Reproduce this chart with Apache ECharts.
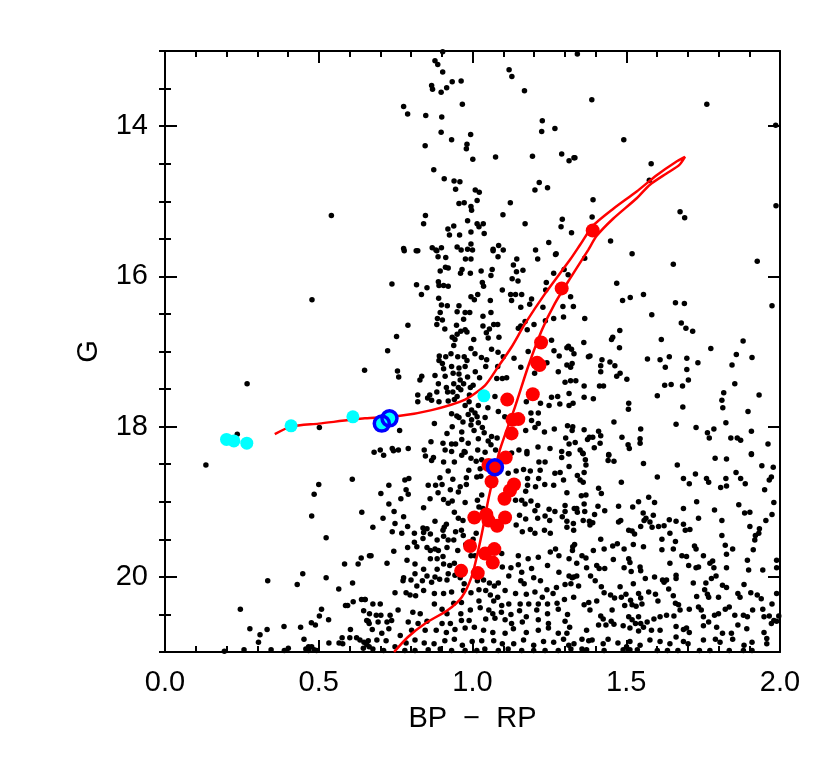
<!DOCTYPE html>
<html>
<head>
<meta charset="utf-8">
<title>Gaia CMD</title>
<script src="https://cdn.jsdelivr.net/npm/echarts@6/dist/echarts.min.js"></script>
<style>
  html, body { margin: 0; padding: 0; background: #fff; }
  #chart { width: 830px; height: 758px; }
</style>
</head>
<body>
<div id="chart"></div>
<script>
'use strict';

// field stars, [BP-RP, G]
var fieldStars = [
  [0.541,15.19],
  [0.878,13.13],[0.887,13.18],[0.903,13.28],[1.119,13.25],[1.128,13.34],[0.934,13.41],[0.963,13.40],[0.867,13.46],
  [0.870,13.51],[0.916,13.49],[0.898,13.55],[1.169,13.53],[0.776,13.74],[0.789,13.84],[0.967,13.71],[0.848,13.86],
  [0.900,13.88],[1.227,13.93],[1.225,14.07],[1.268,14.03],[0.898,14.08],[0.994,14.11],[0.932,14.18],[0.982,14.24],
  [0.980,14.30],[0.846,14.26],[1.001,14.44],[1.075,14.41],[1.195,14.40],[1.290,14.37],[1.314,14.46],[1.330,14.42],
  [0.874,14.58],[0.908,14.70],[0.940,14.73],[0.959,14.74],[0.945,14.84],[1.009,14.85],[1.022,14.88],[1.203,14.85],
  [1.217,14.75],[1.244,14.82],[1.015,14.99],[0.956,15.03],[0.973,15.02],[0.995,15.07],[0.997,15.12],[1.123,15.02],
  [1.099,15.18],[0.847,15.19],[0.841,15.30],[0.984,15.26],[1.015,15.30],[1.035,15.30],[1.021,15.34],[0.920,15.37],
  [0.939,15.33],[0.925,15.45],[0.958,15.45],[0.995,15.41],[1.038,15.43],[1.171,15.30],[1.292,15.24],[1.288,15.34],
  [1.322,15.42],[0.776,15.63],[0.817,15.66],[0.869,15.62],[0.899,15.62],[0.881,15.65],[0.950,15.61],[0.984,15.64],
  [0.995,15.57],[1.067,15.64],[1.085,15.59],[1.248,15.55],[1.272,15.70],[0.903,13.01],
  [1.341,13.04],[1.388,13.65],[1.762,13.71],[1.986,13.99],[1.492,14.18],[1.333,14.42],[1.581,14.50],[1.575,14.72],
  [1.392,14.98],[1.389,15.21],[1.675,15.14],[1.690,15.22],[1.987,15.06],[1.449,15.53],
  [0.478,16.31],[0.649,17.25],[0.267,17.43],[0.235,18.10],[0.502,18.01],
  [0.133,18.51],[0.609,18.70],[0.500,18.77],[0.485,18.90],[0.640,19.14],[0.477,19.19],[0.524,19.48],[0.638,19.75],
  [0.665,19.72],[0.584,19.83],[0.628,19.83],[0.448,19.96],[0.430,20.10],[0.524,20.01],[0.334,20.05],[0.610,20.08],
  [0.565,20.16],[0.245,20.43],[0.587,20.38],[0.594,20.38],[0.612,20.33],[0.639,20.30],[0.651,20.30],[0.509,20.43],
  [0.646,20.45],[0.502,20.52],[0.532,20.57],[0.476,20.61],[0.489,20.64],[0.656,20.58],[0.664,20.62],[0.387,20.66],
  [0.441,20.67],[0.276,20.69],[0.332,20.70],[0.309,20.77],[0.603,20.70],[0.452,20.83],[0.304,20.87],[0.533,20.88],
  [0.566,20.88],[0.578,20.89],[0.576,20.81],[0.601,20.81],[0.623,20.81],[0.634,20.84],[0.647,20.87],[0.656,20.90],
  [0.645,20.95],[0.664,20.93],[0.193,20.99],[0.257,20.97],[0.345,20.97],[0.388,20.98],[0.401,20.95],[0.458,20.96],
  [0.467,20.93],[0.477,20.93],[0.485,20.97],[0.493,20.98],[0.467,20.98],
  [0.778,15.66],[0.822,15.66],[0.884,15.66],[0.963,15.65],[1.000,15.65],[1.067,15.66],[1.100,15.65],[1.205,15.65],
  [1.270,15.71],[0.888,15.74],[0.913,15.75],[0.977,15.77],[0.995,15.77],[1.083,15.74],[1.144,15.77],[1.212,15.77],
  [0.895,15.93],[0.912,15.88],[0.921,15.89],[0.966,15.91],[0.993,15.96],[0.961,15.96],[1.064,15.91],[1.060,15.99],
  [1.028,15.93],[1.133,15.85],[1.143,15.94],[1.164,15.92],[1.298,15.91],[1.311,15.98],[1.264,15.96],[0.738,16.10],
  [0.818,16.11],[0.852,16.15],[0.889,16.07],[0.891,16.12],[0.906,16.12],[0.921,16.13],[1.032,16.08],[1.036,16.13],
  [1.097,16.18],[1.129,16.03],[1.148,16.06],[1.240,16.08],[0.834,16.24],[0.890,16.29],[0.995,16.27],[1.006,16.31],
  [1.017,16.24],[1.058,16.32],[1.124,16.24],[1.140,16.24],[1.160,16.24],[1.127,16.32],[1.192,16.30],[1.238,16.18],
  [1.319,16.27],[0.899,16.38],[0.918,16.39],[0.956,16.39],[0.895,16.48],[0.950,16.47],[0.976,16.48],[0.991,16.48],
  [1.034,16.53],[1.060,16.48],[1.157,16.41],[1.186,16.37],[1.229,16.41],[1.294,16.40],[1.296,16.54],[0.790,16.65],
  [0.886,16.56],[0.902,16.58],[0.884,16.64],[0.910,16.70],[0.971,16.57],[0.948,16.65],[0.976,16.71],[1.034,16.66],
  [1.055,16.70],[1.069,16.64],[1.082,16.64],[1.149,16.69],[1.157,16.66],[1.171,16.60],[1.200,16.64],[1.237,16.59],
  [1.264,16.56],[0.753,16.80],[0.934,16.81],[0.962,16.73],[0.982,16.74],[0.950,16.77],[0.943,16.84],[0.939,16.92],
  [1.004,16.84],[1.045,16.75],[1.051,16.82],[1.086,16.81],[1.178,16.71],[1.257,16.85],[1.312,16.93],[1.322,16.97],
  [0.724,16.99],[0.892,17.06],[0.913,17.07],[0.891,17.12],[0.930,17.03],[0.952,17.07],[0.973,17.07],[0.982,17.12],
  [0.995,16.96],[1.008,17.03],[1.029,17.08],[1.046,17.11],[1.062,16.97],[1.083,17.01],[1.100,17.07],[1.135,17.09],
  [1.181,17.00],[1.265,16.99],[1.282,17.06],[1.307,16.95],[0.902,17.16],[0.906,17.23],[0.932,17.20],[0.956,17.22],
  [0.976,17.20],[1.009,17.27],[1.043,17.20],[1.082,17.20],[1.157,17.21],[1.242,17.15],[1.307,17.18],[1.319,17.21],
  [0.756,17.26],[0.760,17.34],[0.835,17.33],[0.829,17.38],[0.878,17.32],[0.911,17.33],[0.937,17.29],[0.956,17.30],
  [0.960,17.38],[0.984,17.34],[1.023,17.35],[1.079,17.36],[1.097,17.36],[1.111,17.35],[1.202,17.29],[1.279,17.27],
  [1.301,17.41],[1.319,17.39],[0.889,17.43],[0.915,17.48],[0.939,17.43],[0.954,17.48],[0.971,17.43],[0.993,17.48],
  [1.002,17.45],[0.884,17.54],[0.919,17.54],[0.936,17.54],[0.962,17.51],[0.990,17.58],[0.822,17.58],[0.861,17.58],
  [1.073,17.60],[1.257,17.61],[1.277,17.60],[1.314,17.56],[0.822,17.67],[0.854,17.62],[0.867,17.65],[0.891,17.67],
  [0.921,17.66],[0.941,17.64],[0.950,17.60],[0.989,17.67],[0.976,17.72],[0.997,17.78],[1.019,17.72],[1.050,17.75],
  [1.175,17.67],[1.221,17.69],[1.190,17.82],[1.214,17.82],[1.249,17.72],[1.284,17.70],[1.314,17.72],[0.932,17.83],
  [0.949,17.86],[0.986,17.84],[1.008,17.82],[1.015,17.87],[1.041,17.88],[0.876,17.96],[0.763,18.05],[0.956,17.88],
  [0.969,17.94],[0.997,17.91],[1.019,17.95],[1.084,17.80],[1.105,17.87],[1.192,17.92],[1.214,17.96],[1.309,17.99],
  [1.324,18.05],[0.934,18.00],[0.995,17.98],[1.005,18.05],[1.032,18.01],[1.038,18.08],[0.917,18.09],[0.965,18.07],
  [1.062,18.13],[1.080,18.15],[1.173,18.05],[1.203,18.01],[1.234,18.07],[1.266,18.03],[1.303,18.15],[0.700,18.31],
  [0.739,18.29],[0.759,18.31],[0.791,18.29],[0.843,18.31],[0.865,18.20],[0.904,18.22],[0.932,18.23],[0.945,18.23],
  [0.965,18.17],[0.986,18.22],[1.019,18.16],[1.051,18.19],[1.060,18.24],[0.911,18.31],[0.932,18.33],[0.973,18.33],
  [1.017,18.31],[1.041,18.34],[1.075,18.31],[1.127,18.35],[1.151,18.31],[1.177,18.33],[1.213,18.27],[1.252,18.29],
  [1.290,18.33],[1.312,18.36],[1.314,18.23],
  [1.365,15.76],[1.328,16.40],[1.653,15.84],[1.926,15.80],[1.519,15.70],[1.469,16.09],[1.556,16.24],[1.513,16.28],
  [1.488,16.32],[1.660,16.35],[1.689,16.36],[1.974,16.39],[1.583,16.51],[1.365,16.56],[1.679,16.62],[1.694,16.69],
  [1.716,16.73],[1.479,16.72],[1.452,16.84],[1.456,16.81],[1.880,16.86],[1.362,16.88],[1.478,16.95],[1.614,16.84],
  [1.775,16.96],[1.330,17.03],[1.382,17.06],[1.377,17.07],[1.421,17.11],[1.324,17.16],[1.417,17.19],[1.447,17.14],
  [1.463,17.19],[1.569,17.10],[1.610,17.11],[1.640,17.07],[1.627,17.21],[1.697,17.09],[1.733,17.15],[1.858,17.04],
  [1.844,17.18],[1.909,17.08],[1.417,17.27],[1.469,17.33],[1.480,17.29],[1.336,17.39],[1.502,17.37],[1.697,17.24],
  [1.702,17.38],[1.363,17.46],[1.413,17.46],[1.426,17.46],[1.625,17.45],[1.646,17.44],[1.683,17.46],[1.853,17.43],
  [1.363,17.61],[1.393,17.63],[1.601,17.59],[1.932,17.58],[1.327,17.69],[1.508,17.69],[1.507,17.77],[1.684,17.74],
  [1.817,17.55],[1.811,17.65],[1.814,17.75],[1.896,17.80],[1.460,17.94],[1.662,17.97],[1.824,17.95],[1.326,18.00],
  [1.363,18.04],[1.727,18.01],[1.410,18.06],[1.547,18.03],[1.785,18.03],[1.764,18.08],[1.907,18.06],[1.380,18.14],
  [1.374,18.17],[1.391,18.14],[1.417,18.12],[1.486,18.14],[1.545,18.16],[1.545,18.22],[1.334,18.21],[1.415,18.22],
  [1.506,18.24],[1.510,18.29],[1.396,18.28],[1.770,18.15],[1.840,18.15],[1.861,18.15],[1.872,18.18],[1.961,18.23],
  [1.350,18.31],[1.358,18.35],[1.443,18.37],[1.907,18.36],
  [0.680,18.34],[0.711,18.38],[0.743,18.32],[0.847,18.39],[0.867,18.45],[0.873,18.41],[0.906,18.47],[0.941,18.47],
  [0.965,18.38],[0.976,18.34],[0.995,18.42],[1.012,18.46],[1.030,18.44],[1.177,18.36],[1.216,18.47],[1.236,18.47],
  [1.290,18.41],[1.314,18.36],[0.921,18.59],[0.988,18.58],[1.025,18.56],[1.027,18.66],[1.142,18.59],[1.166,18.57],
  [1.188,18.59],[1.220,18.58],[1.268,18.62],[1.285,18.61],[1.314,18.53],[0.780,18.71],[0.793,18.69],[0.894,18.68],
  [0.936,18.70],[0.980,18.68],[1.014,18.67],[1.116,18.62],[1.179,18.69],[1.215,18.69],[0.728,18.78],[0.856,18.78],
  [0.880,18.78],[0.901,18.77],[0.960,18.80],[0.980,18.77],[0.784,18.84],[0.791,18.90],[0.702,18.89],[0.767,18.96],
  [0.862,18.96],[0.888,18.88],[0.928,18.84],[0.954,18.87],[1.030,18.91],[1.016,18.98],[1.173,18.86],[1.179,18.78],
  [1.205,18.80],[1.235,18.77],[1.264,18.78],[1.307,18.88],[1.296,18.71],[0.728,19.03],[0.745,19.13],[0.841,19.08],
  [0.906,18.97],[0.934,18.99],[0.921,19.02],[0.976,19.01],[1.021,19.07],[1.034,19.09],[1.140,18.98],[1.160,18.98],
  [1.171,19.03],[1.190,18.99],[1.212,19.05],[1.203,19.12],[1.249,19.10],[1.268,19.13],[1.301,19.05],[1.331,19.09],
  [1.301,19.13],[0.709,19.22],[0.776,19.20],[0.878,19.26],[0.908,19.34],[0.915,19.30],[0.941,19.14],[0.954,19.22],
  [0.969,19.25],[1.153,19.18],[1.173,19.23],[1.212,19.22],[1.236,19.19],[1.251,19.25],[1.292,19.20],[1.307,19.26],
  [0.839,19.35],[0.852,19.36],[0.789,19.33],[0.748,19.29],[0.676,19.34],[0.739,19.40],[0.770,19.42],[0.811,19.42],
  [0.841,19.41],[0.863,19.43],[0.904,19.38],[0.906,19.46],[0.945,19.40],[0.964,19.38],[0.970,19.45],[1.142,19.31],
  [1.162,19.40],[1.188,19.37],[1.203,19.42],[1.234,19.38],[1.253,19.42],[1.307,19.34],[1.329,19.38],[0.811,19.54],
  [0.839,19.49],[0.885,19.51],[0.921,19.51],[0.939,19.51],[0.978,19.57],[1.002,19.50],[1.012,19.42],[0.789,19.61],
  [0.819,19.60],[0.852,19.61],[0.863,19.65],[0.878,19.63],[0.889,19.65],[0.744,19.66],[0.670,19.72],[0.787,19.78],
  [0.863,19.76],[0.885,19.76],[0.904,19.73],[0.917,19.61],[0.952,19.65],[0.995,19.72],[1.008,19.72],[1.084,19.63],
  [1.095,19.69],[1.149,19.72],[1.181,19.76],[1.214,19.74],[1.253,19.67],[1.270,19.63],[1.281,19.72],[1.314,19.76],
  [1.325,19.65],[0.722,19.82],[0.813,19.83],[0.885,19.90],[0.906,19.83],[0.926,19.85],[0.941,19.82],[0.921,19.96],
  [0.943,19.98],[1.097,19.87],[1.125,19.88],[1.149,19.84],[1.160,19.94],[1.192,19.89],[1.244,19.85],[1.281,19.94],
  [1.314,19.99],[1.329,20.00],[0.776,20.01],[0.813,19.96],[0.841,19.90],[0.852,19.99],[0.774,20.05],[0.800,20.04],
  [0.819,20.12],[0.837,20.05],[0.867,20.07],[0.878,20.00],[0.893,20.03],[0.917,20.04],[0.960,20.01],[0.973,20.09],
  [1.016,20.05],[1.036,20.04],[1.055,20.08],[1.071,20.12],[1.084,20.08],[1.118,19.99],[1.157,20.05],[1.168,20.09],
  [1.199,20.01],[1.221,20.05],[1.242,20.17],[1.273,20.14],[1.301,20.10],[1.320,20.09],[0.748,20.21],[0.784,20.21],
  [0.797,20.24],[0.815,20.25],[0.841,20.18],[0.876,20.22],[0.906,20.22],[0.932,20.20],[0.971,20.18],[0.995,20.21],
  [1.021,20.17],[1.043,20.18],[1.058,20.24],[1.082,20.27],[1.106,20.18],[1.140,20.22],[1.175,20.23],[1.203,20.20],
  [1.227,20.27],[1.262,20.22],[1.299,20.30],[1.329,20.27],[0.650,20.30],[0.676,20.36],[0.700,20.36],[0.876,20.36],
  [0.939,20.35],[0.964,20.34],[1.021,20.32],[1.069,20.32],[1.095,20.38],[1.118,20.36],[1.155,20.36],[1.183,20.36],
  [1.214,20.36],[1.244,20.36],[1.275,20.35],[0.665,20.49],[0.687,20.51],[0.702,20.51],[0.732,20.51],[0.758,20.44],
  [0.806,20.47],[0.830,20.49],[0.901,20.43],[0.917,20.49],[0.962,20.49],[0.993,20.44],[1.025,20.41],[1.053,20.44],
  [1.066,20.49],[1.094,20.47],[1.125,20.50],[1.153,20.45],[1.175,20.53],[1.209,20.44],[1.244,20.49],[1.279,20.43],
  [1.309,20.50],[0.661,20.59],[0.693,20.60],[0.722,20.60],[0.737,20.58],[0.791,20.60],[0.823,20.62],[0.852,20.59],
  [0.901,20.62],[0.928,20.62],[0.964,20.58],[0.989,20.58],[1.043,20.56],[1.073,20.55],[1.106,20.57],[1.127,20.62],
  [1.162,20.60],[1.214,20.57],[1.247,20.62],[1.301,20.59],[0.674,20.70],[0.705,20.75],[0.728,20.69],[0.765,20.78],
  [0.802,20.71],[0.846,20.71],[0.882,20.71],[0.915,20.74],[0.943,20.70],[0.976,20.68],[1.006,20.67],[1.036,20.71],
  [1.066,20.74],[1.106,20.75],[1.133,20.69],[1.175,20.74],[1.214,20.71],[1.247,20.68],[1.279,20.75],[1.307,20.75],
  [1.316,20.67],[0.661,20.85],[0.689,20.84],[0.719,20.85],[0.748,20.93],[0.784,20.88],[0.813,20.84],[0.843,20.88],
  [0.875,20.89],[0.910,20.85],[0.941,20.83],[0.967,20.91],[0.999,20.86],[1.030,20.85],[1.069,20.85],[1.097,20.89],
  [1.134,20.89],[1.166,20.84],[1.199,20.91],[1.231,20.86],[1.264,20.87],[1.296,20.83],[1.313,20.91],[0.676,20.96],
  [0.711,20.98],[0.780,20.98],[0.813,20.98],[0.856,20.97],[0.895,20.96],[0.932,20.98],[0.976,20.98],[1.014,20.98],
  [1.040,20.96],[1.084,20.98],[1.116,20.96],[1.160,20.98],[1.199,20.98],[1.236,20.98],[1.279,20.98],[1.320,20.96],
  [1.360,18.36],[1.367,18.44],[1.369,18.51],[1.443,18.38],[1.460,18.46],[1.441,18.45],[1.556,18.49],[1.666,18.51],
  [1.789,18.42],[1.826,18.43],[1.907,18.37],[1.941,18.52],[1.978,18.54],[1.341,18.65],[1.363,18.61],[1.350,18.71],
  [1.360,18.74],[1.484,18.74],[1.601,18.67],[1.686,18.69],[1.705,18.76],[1.725,18.63],[1.761,18.69],[1.768,18.74],
  [1.807,18.81],[1.824,18.69],[1.826,18.79],[1.857,18.61],[1.872,18.69],[1.887,18.76],[1.950,18.84],[1.972,18.67],
  [1.965,18.71],[1.410,18.82],[1.419,18.89],[1.354,18.92],[1.369,18.91],[1.339,19.09],[1.363,19.03],[1.341,19.14],
  [1.365,19.13],[1.408,19.06],[1.430,19.12],[1.475,19.06],[1.521,19.07],[1.540,19.00],[1.573,18.94],[1.592,19.01],
  [1.555,19.15],[1.588,19.18],[1.686,19.09],[1.729,19.00],[1.787,19.11],[1.866,19.04],[1.885,19.15],[1.902,19.14],
  [1.980,19.01],[1.974,19.17],[1.328,19.29],[1.360,19.25],[1.380,19.26],[1.397,19.17],[1.391,19.28],[1.382,19.31],
  [1.475,19.27],[1.482,19.25],[1.508,19.38],[1.519,19.39],[1.527,19.43],[1.547,19.33],[1.564,19.22],[1.577,19.27],
  [1.558,19.25],[1.584,19.34],[1.605,19.33],[1.623,19.32],[1.640,19.24],[1.662,19.26],[1.686,19.30],[1.707,19.37],
  [1.692,19.38],[1.735,19.22],[1.811,19.25],[1.902,19.33],[1.933,19.36],[1.931,19.42],[1.954,19.25],[1.642,19.42],
  [1.326,19.60],[1.332,19.57],[1.356,19.72],[1.369,19.75],[1.393,19.65],[1.417,19.50],[1.428,19.63],[1.456,19.59],
  [1.471,19.56],[1.493,19.63],[1.523,19.57],[1.556,19.60],[1.616,19.50],[1.616,19.64],[1.653,19.63],[1.660,19.53],
  [1.722,19.59],[1.727,19.63],[1.822,19.58],[1.846,19.63],[1.811,19.45],[1.826,19.70],[1.920,19.45],[1.918,19.51],
  [1.913,19.64],[1.989,19.78],[1.681,19.72],[1.696,19.73],[1.751,19.72],[1.781,19.79],[1.458,19.77],[1.508,19.76],
  [1.512,19.81],[1.339,19.82],[1.371,19.88],[1.404,19.85],[1.412,19.89],[1.430,19.89],[1.493,19.88],[1.516,19.93],
  [1.545,19.87],[1.547,19.92],[1.618,20.04],[1.642,19.82],[1.662,19.98],[1.662,20.02],[1.703,19.85],[1.727,19.88],
  [1.735,19.87],[1.772,19.82],[1.785,19.88],[1.826,19.88],[1.894,19.78],[1.898,19.91],[1.944,19.91],[1.989,19.88],
  [1.324,20.01],[1.339,19.99],[1.345,20.12],[1.384,19.99],[1.399,20.05],[1.419,20.13],[1.480,20.13],[1.523,20.09],
  [1.562,20.02],[1.592,20.00],[1.623,20.07],[1.631,20.04],[1.718,20.08],[1.777,20.02],[1.792,19.99],[1.759,20.08],
  [1.813,20.11],[1.883,20.10],[1.363,20.37],[1.378,20.34],[1.404,20.32],[1.428,20.21],[1.449,20.24],[1.462,20.28],
  [1.484,20.27],[1.499,20.23],[1.514,20.31],[1.540,20.22],[1.547,20.28],[1.551,20.36],[1.573,20.20],[1.595,20.23],
  [1.603,20.32],[1.638,20.16],[1.653,20.25],[1.660,20.35],[1.670,20.37],[1.729,20.26],[1.755,20.17],[1.764,20.23],
  [1.768,20.27],[1.800,20.27],[1.826,20.14],[1.863,20.22],[1.870,20.27],[1.905,20.21],[1.926,20.24],[1.939,20.29],
  [1.944,20.43],[1.974,20.36],[1.989,20.22],[1.382,20.44],[1.417,20.52],[1.425,20.56],[1.454,20.44],[1.451,20.59],
  [1.495,20.38],[1.519,20.37],[1.532,20.39],[1.508,20.53],[1.519,20.57],[1.530,20.62],[1.540,20.53],[1.547,20.62],
  [1.568,20.60],[1.590,20.56],[1.610,20.53],[1.631,20.51],[1.655,20.52],[1.675,20.44],[1.705,20.43],[1.735,20.40],
  [1.744,20.44],[1.751,20.53],[1.787,20.51],[1.800,20.49],[1.822,20.43],[1.835,20.40],[1.853,20.51],[1.881,20.51],
  [1.894,20.53],[1.911,20.44],[1.948,20.53],[1.965,20.52],[1.980,20.58],[1.996,20.52],[1.371,20.71],[1.410,20.64],
  [1.434,20.64],[1.460,20.63],[1.490,20.65],[1.512,20.68],[1.540,20.72],[1.556,20.67],[1.582,20.71],[1.610,20.71],
  [1.662,20.66],[1.686,20.70],[1.696,20.68],[1.705,20.74],[1.751,20.65],[1.768,20.60],[1.794,20.67],[1.813,20.75],
  [1.842,20.75],[1.863,20.64],[1.892,20.69],[1.948,20.74],[1.957,20.82],[1.972,20.62],[1.989,20.59],[1.356,20.83],
  [1.378,20.85],[1.389,20.84],[1.330,20.89],[1.356,20.96],[1.371,20.97],[1.425,20.89],[1.441,20.83],[1.473,20.88],
  [1.501,20.93],[1.512,20.86],[1.545,20.91],[1.577,20.84],[1.610,20.86],[1.642,20.89],[1.662,20.80],[1.686,20.86],
  [1.701,20.89],[1.751,20.84],[1.790,20.83],[1.805,20.87],[1.846,20.83],[1.883,20.91],[1.909,20.87],[1.957,20.89],
  [1.428,20.98],[1.490,20.97],[1.512,20.97],[1.536,20.97],[1.601,20.98],[1.634,20.98],[1.668,20.98],[1.738,20.98],
  [1.772,20.98],[1.835,20.98],[1.881,20.98],[1.909,20.98]
];

// cluster members (red)
var memberStars = [
  [1.391,15.39],[1.290,16.16],[1.223,16.88],[1.210,17.15],[1.218,17.18],[1.196,17.57],[1.113,17.64],[1.130,17.91],
  [1.149,17.90],[1.127,18.09],[1.108,18.41],[1.052,18.51],[1.073,18.54],[1.062,18.73],[1.135,18.77],[1.122,18.85],
  [1.104,18.96],[1.006,19.21],[1.045,19.17],[1.052,19.25],[1.080,19.32],[1.106,19.21],[0.992,19.59],[1.041,19.69],
  [1.071,19.63],[1.066,19.81],[0.963,19.92],[1.017,19.95]
];

// hot stars (cyan)
var cyanStars = [
  [0.200,18.17],[0.224,18.19],[0.266,18.22],[0.410,17.99],[0.611,17.87],[1.037,17.59],[0.705,17.96],[0.730,17.89]
];

// ringed stars (blue open circles)
var ringStars = [
  [0.705,17.96],[0.730,17.89],[1.073,18.54]
];

// isochrone, from the lower main sequence up to the tip and back down the other branch
var isochrone = [
  [0.745,21.00],[0.790,20.80],[0.846,20.62],[0.920,20.44],[0.965,20.27],[0.997,20.00],[1.019,19.64],[1.035,19.33],
  [1.051,18.98],[1.068,18.67],[1.089,18.31],[1.138,17.74],[1.181,17.20],[1.225,16.72],[1.268,16.36],[1.317,16.03],
  [1.376,15.65],[1.404,15.46],[1.458,15.23],[1.534,14.96],[1.577,14.78],[1.631,14.63],[1.672,14.52],[1.691,14.41],
  [1.660,14.48],[1.600,14.65],[1.534,14.87],[1.458,15.10],[1.391,15.33],[1.350,15.58],[1.317,15.78],[1.236,16.23],
  [1.171,16.63],[1.127,16.94],[1.084,17.20],[1.041,17.45],[0.976,17.64],[0.867,17.78],[0.759,17.86],[0.650,17.89],
  [0.500,17.96],[0.410,18.00],[0.357,18.10]
];

var gTicks = [14, 16, 18, 20];

var font = 'Liberation Sans';
var chart = echarts.init(document.getElementById('chart'));

function xAxisDef(pos, labels) {
    return {
        type: 'value', position: pos, min: 0, max: 2, interval: 0.5,
        axisLine: { show: true, onZero: false, lineStyle: { color: '#000', width: 2 } },
        axisTick: { inside: true, length: 12, lineStyle: { color: '#000', width: 2 } },
        minorTick: { show: true, splitNumber: 5, length: 6, lineStyle: { color: '#000', width: 2 } },
        axisLabel: {
            show: labels, color: '#000', fontFamily: font, fontSize: 29, margin: 16,
            formatter: function (v) { return v.toFixed(1); }
        },
        splitLine: { show: false },
        name: labels ? 'BP  \u2212  RP' : '',
        nameLocation: 'middle', nameGap: 52,
        nameTextStyle: { color: '#000', fontFamily: font, fontSize: 29 }
    };
}

function yAxisMajor(pos, labels) {
    return {
        type: 'value', position: pos, min: 13, max: 21, inverse: true,
        axisLine: { show: true, onZero: false, lineStyle: { color: '#000', width: 2 } },
        axisTick: { inside: true, length: 12, customValues: gTicks, lineStyle: { color: '#000', width: 2 } },
        axisLabel: { show: labels, customValues: gTicks, color: '#000', fontFamily: font, fontSize: 29, margin: 17 },
        splitLine: { show: false },
        name: labels ? 'G' : '',
        nameLocation: 'middle', nameGap: 62,
        nameTextStyle: { color: '#000', fontFamily: font, fontSize: 29 }
    };
}

function yAxisMinor(pos) {
    return {
        type: 'value', position: pos, min: 13, max: 21, interval: 0.5, inverse: true,
        axisLine: { show: false },
        axisTick: { inside: true, length: 6, lineStyle: { color: '#000', width: 2 } },
        axisLabel: { show: false },
        splitLine: { show: false }
    };
}

var options = {
    animation: false,
    backgroundColor: '#fff',
    grid: { left: 165, top: 51, width: 615, height: 601 },
    xAxis: [ xAxisDef('bottom', true), xAxisDef('top', false) ],
    yAxis: [ yAxisMajor('left', true), yAxisMinor('left'), yAxisMajor('right', false), yAxisMinor('right') ],
    series: [
        {
            type: 'scatter', data: fieldStars, symbolSize: 5.5,
            itemStyle: { color: '#000', opacity: 1 }, z: 2
        },
        {
            type: 'line', data: isochrone, showSymbol: false, smooth: 0.25,
            lineStyle: { color: '#ff0000', width: 2.5 }, z: 3
        },
        {
            type: 'scatter', data: memberStars, symbolSize: 14,
            itemStyle: { color: '#ff0000', opacity: 1 }, z: 4
        },
        {
            type: 'scatter', data: cyanStars, symbolSize: 13,
            itemStyle: { color: '#00ffff', opacity: 1 }, z: 5
        },
        {
            type: 'scatter', data: ringStars, symbolSize: 15,
            itemStyle: { color: 'rgba(0,0,0,0)', borderColor: '#0000ff', borderWidth: 3.5, opacity: 1 }, z: 6
        }
    ]
};

chart.setOption(options);
</script>
</body>
</html>
